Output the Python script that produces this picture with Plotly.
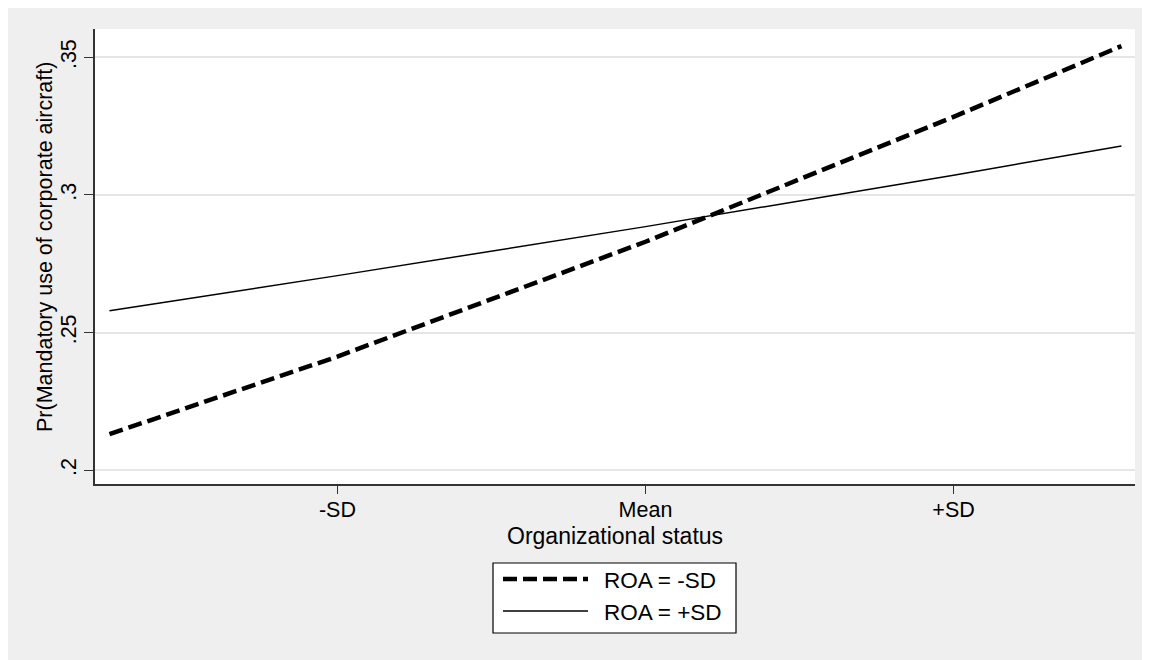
import plotly.graph_objects as go

# Data (organizational status in SD units)
org_status = [-1.74, -1.0, 0.0, 1.0, 1.545]
roa_minus_sd = [0.2131, 0.2413, 0.2830, 0.3284, 0.3541]
roa_plus_sd = [0.2579, 0.2707, 0.2885, 0.3072, 0.3178]

x_tickvals = [-1, 0, 1]
x_ticktext = ["-SD", "Mean", "+SD"]
y_tickvals = [0.2, 0.25, 0.3, 0.35]
y_ticktext = [".2", ".25", ".3", ".35"]

series_names = ["ROA = -SD", "ROA = +SD"]

FONT = "Liberation Sans, Arial, Helvetica, sans-serif"
OFF = 8  # page body margin in browser
W, H = 1150, 660
# target pixel layout (in window coordinates)
PL, PR, PT, PB = 95, 1135, 29, 484
L, R, T, B = PL - OFF, W - (PR - OFF), PT - OFF, H - (PB - OFF)
pw, ph = W - L - R, H - T - B


def px(x):
    return (x - OFF - L) / pw


def py(y):
    return (H - B - (y - OFF)) / ph


fig = go.Figure()
fig.add_trace(go.Scatter(x=org_status, y=roa_minus_sd, mode="lines", name=series_names[0],
                         line=dict(color="black", width=4.5, dash="14px,6px"), showlegend=False))
fig.add_trace(go.Scatter(x=org_status, y=roa_plus_sd, mode="lines", name=series_names[1],
                         line=dict(color="black", width=1.5), showlegend=False))

shapes = [
    # legend box
    dict(type="rect", xref="paper", yref="paper", x0=px(493), x1=px(736), y0=py(633), y1=py(563),
         fillcolor="white", line=dict(color="black", width=1.2)),
    dict(type="line", xref="paper", yref="paper", x0=px(503), x1=px(588), y0=py(579), y1=py(579),
         line=dict(color="black", width=4.5, dash="14px,6px")),
    dict(type="line", xref="paper", yref="paper", x0=px(503), x1=px(588), y0=py(611), y1=py(611),
         line=dict(color="black", width=1.5)),
]

annotations = [
    dict(xref="paper", yref="paper", x=px(602), y=py(580), text=series_names[0], showarrow=False,
         xanchor="left", yanchor="middle", font=dict(family=FONT, size=22.5, color="black")),
    dict(xref="paper", yref="paper", x=px(602), y=py(612), text=series_names[1], showarrow=False,
         xanchor="left", yanchor="middle", font=dict(family=FONT, size=22.5, color="black")),
    dict(xref="paper", yref="paper", x=px(45), y=py(247), text="Pr(Mandatory use of corporate aircraft)",
         showarrow=False, textangle=-90, xanchor="center", yanchor="middle",
         font=dict(family=FONT, size=21.5, color="black")),
    dict(xref="paper", yref="paper", x=px(615), y=py(536), text="Organizational status",
         showarrow=False, xanchor="center", yanchor="middle",
         font=dict(family=FONT, size=23, color="black")),
]

fig.update_layout(
    width=W, height=H,
    margin=dict(l=L, r=R, t=T, b=B),
    paper_bgcolor="#EFEFEF",
    plot_bgcolor="white",
    font=dict(family=FONT, size=21, color="black"),
    shapes=shapes,
    annotations=annotations,
    showlegend=False,
    xaxis=dict(
        range=[-1.787, 1.589], tickvals=x_tickvals, ticktext=x_ticktext,
        showgrid=False, zeroline=False, showline=True, linecolor="#333333", linewidth=1.5,
        ticks="outside", ticklen=8, tickwidth=1.2, tickcolor="#333333",
        tickfont=dict(family=FONT, size=21.5), ticklabelstandoff=-3,
    ),
    yaxis=dict(
        range=[0.195, 0.3603], tickvals=y_tickvals, ticktext=y_ticktext, tickangle=-90,
        showgrid=True, gridcolor="#E6E6E6", gridwidth=1.5, zeroline=False,
        showline=True, linecolor="#333333", linewidth=1.5,
        ticks="outside", ticklen=9, tickwidth=1.2, tickcolor="#333333",
        tickfont=dict(family=FONT, size=21.5),
    ),
)

fig.write_html("out.html")
